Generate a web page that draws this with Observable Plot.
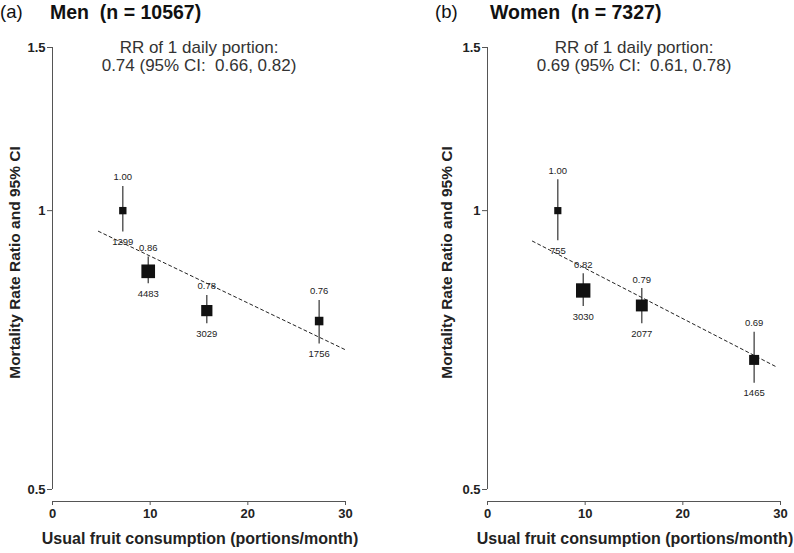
<!DOCTYPE html>
<html>
<head>
<meta charset="utf-8">
<script src="https://cdn.jsdelivr.net/npm/d3@7"></script>
<script src="https://cdn.jsdelivr.net/npm/@observablehq/plot@0.6"></script>
<style>
  html, body { margin: 0; padding: 0; background: #fff; }
  body { width: 794px; height: 553px; overflow: hidden; font-family: "Liberation Sans", Arial, sans-serif; }
  #wrap { display: flex; flex-direction: row; }
  .panel { width: 397px; }
  .hdr { position: relative; height: 28px; line-height: 24px; color: #111; }
  .hdr span { position: absolute; top: 0; white-space: pre; }
  .hdr .let { font-size: 18.5px; }
  .hdr .ttl { font-size: 19.5px; font-weight: bold; }
</style>
</head>
<body>
<div id="wrap"></div>
<script>
// ---- data ----
const panelLetters = ["(a)", "(b)"];
const panelTitles = ["Men  (n = 10567)", "Women  (n = 7327)"];
const xMid = [7.2, 9.8, 15.8, 27.3];            // usual fruit consumption (portions/month)

const menRR = [1.00, 0.86, 0.78, 0.76];
const menLo = [0.948, 0.834, 0.755, 0.718];
const menHi = [1.062, 0.891, 0.810, 0.800];
const menN  = [1299, 4483, 3029, 1756];
const menTrendX = [4.7, 30];
const menTrendY = [0.950, 0.7075];
const menDaily = [0.74, 0.66, 0.82];

const womenRR = [1.00, 0.82, 0.79, 0.69];
const womenLo = [0.928, 0.788, 0.755, 0.651];
const womenHi = [1.080, 0.855, 0.824, 0.739];
const womenN  = [755, 3030, 2077, 1465];
const womenTrendX = [4.6, 29.6];
const womenTrendY = [0.927, 0.678];
const womenDaily = [0.69, 0.61, 0.78];

const yTicks = [0.5, 1, 1.5];
const xTicks = [0, 10, 20, 30];
const yTitle = "Mortality Rate Ratio and 95% CI";
const xTitle = "Usual fruit consumption (portions/month)";

const panels = [
  {rr: menRR, lo: menLo, hi: menHi, n: menN, tx: menTrendX, ty: menTrendY, daily: menDaily,
   marginLeft: 52, marginRight: 52, rmax: 0.1151, titleDx: -37, letterLeft: 0, titleLeft: 50},
  {rr: womenRR, lo: womenLo, hi: womenHi, n: womenN, tx: womenTrendX, ty: womenTrendY, daily: womenDaily,
   marginLeft: 90, marginRight: 14, rmax: 0.1473, titleDx: -40, letterLeft: 38, titleLeft: 93}
];

const W = 397, H = 525;
const fmt2 = d3.format(".2f");

panels.forEach((p, i) => {
  const pts = xMid.map((x, k) => ({x, rr: p.rr[k], lo: p.lo[k], hi: p.hi[k], n: p.n[k]}));
  const trend = p.tx.map((x, k) => ({x, y: p.ty[k]}));
  const maxN = d3.max(p.n);
  const sub = `RR of 1 daily portion:\n${fmt2(p.daily[0])} (95% CI:\u00a0 ${fmt2(p.daily[1])}, ${fmt2(p.daily[2])})`;

  const chart = Plot.plot({
    width: W,
    height: H,
    marginLeft: p.marginLeft,
    marginRight: p.marginRight,
    marginTop: 19,
    marginBottom: 52,
    style: {fontFamily: "'Liberation Sans', Arial, sans-serif", background: "#fff", color: "#222"},
    x: {domain: [0, 30], label: null},
    y: {type: "log", domain: [0.5, 1.5], range: [461, 19], label: null},
    r: {type: "sqrt", domain: [0, maxN], range: [0, p.rmax * Math.sqrt(maxN)]},
    marks: [
      // y axis
      Plot.ruleX([0], {y1: 0.5, y2: 1.5, stroke: "#555", strokeWidth: 1}),
      Plot.axisY({ticks: yTicks, tickFormat: d => String(d), tickSize: 5, tickPadding: 2,
        fontSize: 13, fontWeight: "bold", stroke: "#555", fill: "#222", label: null}),
      // x axis (offset below the plot)
      Plot.ruleY([0.5], {x1: 0, x2: 30, dy: 12, stroke: "#555", strokeWidth: 1}),
      Plot.axisX({ticks: xTicks, tickFormat: d => String(d), tickSize: 4, tickPadding: 3,
        fontSize: 13, fontWeight: "bold", stroke: "#555", fill: "#222", label: null}),
      // axis titles
      Plot.text([yTitle], {frameAnchor: "left", text: d => d, rotate: -90, textAnchor: "middle",
        dx: p.titleDx, dy: -12, fontSize: 15.5, fontWeight: "bold", fill: "#222"}),
      Plot.text([xTitle], {frameAnchor: "bottom", text: d => d, dy: 42, dx: 1, textAnchor: "middle",
        fontSize: 16, fontWeight: "bold", fill: "#222"}),
      // subtitle
      Plot.text([sub], {frameAnchor: "top", text: d => d, dy: 8.5, lineAnchor: "middle", lineHeight: 1.04,
        fontSize: 17, fill: "#333"}),
      // trend line
      Plot.line(trend, {x: "x", y: "y", stroke: "#222", strokeWidth: 1, strokeDasharray: "3,3"}),
      // CIs
      Plot.ruleX(pts, {x: "x", y1: "lo", y2: "hi", stroke: "#333", strokeWidth: 1.2}),
      // squares
      Plot.dot(pts, {x: "x", y: "rr", r: "n", symbol: "square", fill: "#111", stroke: null}),
      // labels
      Plot.text(pts, {x: "x", y: "hi", text: d => fmt2(d.rr), dy: -9, fontSize: 9.5, fill: "#222"}),
      Plot.text(pts, {x: "x", y: "lo", text: d => String(d.n), dy: 10, fontSize: 9.5, fill: "#222"})
    ]
  });

  const div = document.createElement("div");
  div.className = "panel";
  const hdr = document.createElement("div");
  hdr.className = "hdr";
  const a = document.createElement("span");
  a.className = "let";
  a.textContent = panelLetters[i];
  a.style.left = p.letterLeft + "px";
  const t = document.createElement("span");
  t.className = "ttl";
  t.textContent = panelTitles[i];
  t.style.left = p.titleLeft + "px";
  hdr.appendChild(a); hdr.appendChild(t);
  div.appendChild(hdr);
  div.appendChild(chart);
  document.getElementById("wrap").appendChild(div);
});
</script>
</body>
</html>
